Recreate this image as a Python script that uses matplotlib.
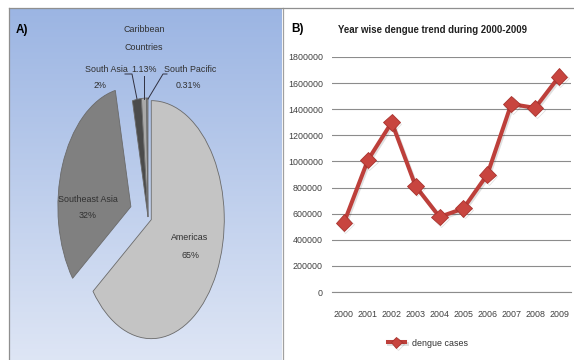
import numpy as np
import matplotlib.pyplot as plt
from matplotlib.lines import Line2D
from matplotlib import patheffects as pe

plt.rcParams['font.family'] = ['Liberation Sans Narrow', 'Liberation Sans', 'DejaVu Sans']

# panel A: share of dengue cases by region
regions = ['Americas', 'Southeast Asia', 'South Asia', 'Caribbean Countries', 'South Pacific']
shares = [65, 32, 2, 1.13, 0.31]
share_labels = ['65%', '32%', '2%', '1.13%', '0.31%']
slice_colors = ['#c4c4c4', '#808080', '#4b4b4b', '#a9a9a9', '#8c8c8c']
explode = [0.05, 0.25, 0, 0, 0]

# panel B: yearly dengue cases
years = ['2000', '2001', '2002', '2003', '2004', '2005', '2006', '2007', '2008', '2009']
cases = [530000, 1010000, 1300000, 810000, 575000, 640000, 900000, 1440000, 1410000, 1650000]
yticks = [0, 200000, 400000, 600000, 800000, 1000000, 1200000, 1400000, 1600000, 1800000]

W, H = 574, 360
fig = plt.figure(figsize=(W / 100, H / 100), dpi=100)


def box(x0, y0, x1, y1):
    # pixel box measured from the top-left corner -> figure rect
    return [x0 / W, 1 - y1 / H, (x1 - x0) / W, (y1 - y0) / H]


def fig_line(xs, ys, color='#8f8f8f', lw=0.9):
    fig.add_artist(Line2D([x / W for x in xs], [1 - y / H for y in ys],
                          transform=fig.transFigure, color=color, lw=lw))


# ---- left panel: blue gradient background
bg = fig.add_axes(box(9, 8, 282, 360))
grad = np.linspace(0, 1, 256).reshape(-1, 1)
top = np.array([0.61, 0.71, 0.89])
bottom = np.array([0.87, 0.90, 0.96])
img = top + (bottom - top) * grad[:, :, None]
bg.imshow(img, aspect='auto', extent=[0, 1, 0, 1])
bg.axis('off')

fig_line([9, 9], [8, 360])
fig_line([9, 282], [8, 8])
fig_line([283, 283], [8, 360], color='#a0a0a0')
fig_line([283, 574], [8, 8])

# pie centre and radii in pixels (the pie is drawn stretched)
cx, cy, rx, ry = 148, 217, 73, 119
ax1 = fig.add_axes(box(9, 8, 282, 360))
ax1.patch.set_alpha(0)
ax1.pie(shares, colors=slice_colors, explode=explode, startangle=90,
        counterclock=False, wedgeprops=dict(edgecolor='#6a6a6a', linewidth=0.6))
ax1.set_aspect('auto')
ax1.set_xlim((9 - cx) / rx, (282 - cx) / rx)
ax1.set_ylim((cy - 360) / ry, (cy - 8) / ry)
ax1.axis('off')


def pp(px, py):
    return (px - cx) / rx, (cy - py) / ry


txt = dict(fontsize=6.4, color='#303030', ha='center', va='center')
ax1.text(*pp(16, 30), 'A)', fontsize=8.5, fontweight='bold', ha='left', va='center')
ax1.text(*pp(144, 29), 'Caribbean', **txt)
ax1.text(*pp(144, 48), 'Countries', **txt)
ax1.text(*pp(144, 70), share_labels[3], **txt)
ax1.text(*pp(106, 70), 'South Asia', **txt)
ax1.text(*pp(100, 85), share_labels[2], **txt)
ax1.text(*pp(190, 70), 'South Pacific', **txt)
ax1.text(*pp(188, 86), share_labels[4], **txt)
ax1.text(*pp(88, 200), 'Southeast Asia', **txt)
ax1.text(*pp(88, 216), share_labels[1], **txt)
ax1.text(*pp(190, 238), 'Americas', **txt)
ax1.text(*pp(190, 255), share_labels[0], **txt)

# leader lines for the thin slices
for pts in ([(125, 74), (132, 74), (137, 99)],
            [(144, 76), (144, 99)],
            [(167, 74), (163, 74), (148, 99)]):
    xs, ys = zip(*[pp(*p) for p in pts])
    ax1.plot(xs, ys, color='#303040', lw=0.7)

# ---- right panel: yearly trend
ax2 = fig.add_axes(box(332, 57, 571, 292))
x = np.arange(len(years))
ax2.plot(x, cases, color='#bd3f3a', lw=2.9, marker='D', markersize=8.5,
         markerfacecolor='#c8453f', markeredgecolor='#a9332e', markeredgewidth=0.6,
         label='dengue cases',
         path_effects=[pe.SimpleLineShadow(offset=(1, -1.2), alpha=0.12), pe.Normal()])
ax2.set_xlim(-0.5, len(years) - 0.5)
ax2.set_ylim(0, 1800000)
ax2.set_yticks(yticks)
ax2.set_yticklabels([str(v) for v in yticks])
ax2.set_xticks(x)
ax2.set_xticklabels(years)
ax2.tick_params(axis='y', length=0, pad=6.5, labelsize=6.4, labelcolor='#404040')
ax2.tick_params(axis='x', length=0, pad=13, labelsize=6.4, labelcolor='#404040')
ax2.grid(axis='y', color='#8c8c8c', lw=0.8)
ax2.set_axisbelow(True)
for s in ['top', 'right', 'left']:
    ax2.spines[s].set_visible(False)
ax2.spines['bottom'].set_color('#8c8c8c')
ax2.spines['bottom'].set_linewidth(0.8)

ax2.legend(loc='center', bbox_to_anchor=((428 - 332) / 239, (292 - 343) / 235),
           frameon=False, fontsize=6.4, handlelength=2.0, markerscale=0.7,
           labelcolor='#303030')

fig.text(291 / W, 1 - 29 / H, 'B)', fontsize=8.5, fontweight='bold', va='center')
fig.text(432 / W, 1 - 30 / H, 'Year wise dengue trend during 2000-2009',
         fontsize=6.9, fontweight='bold', ha='center', va='center', color='#202020')

fig.savefig('out.png', dpi=100)
